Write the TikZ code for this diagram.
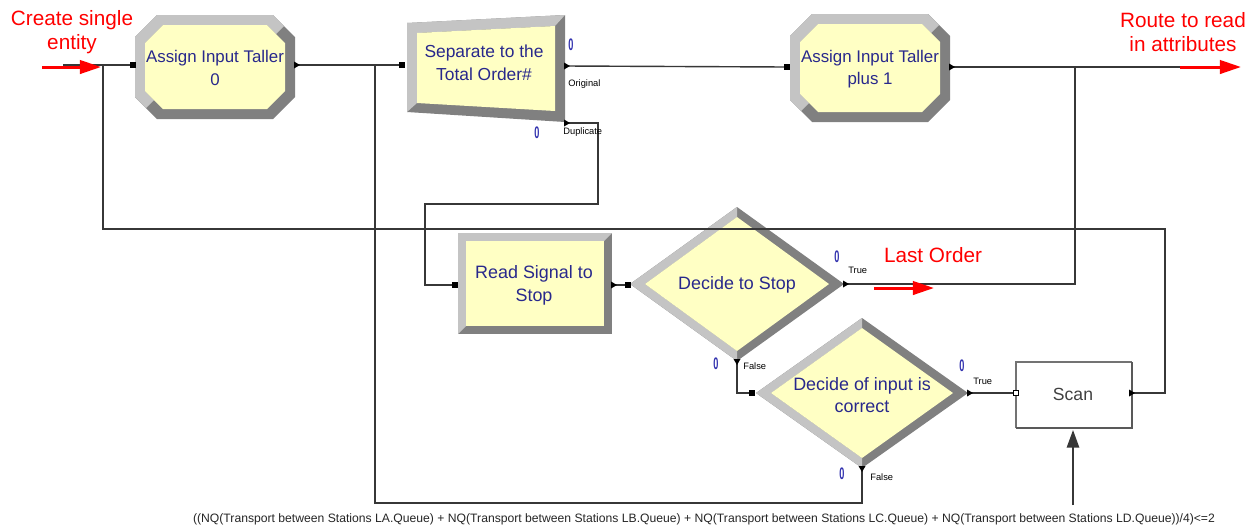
\documentclass[tikz,border=0pt]{standalone}
\usepackage{fontspec}
\setmainfont{Liberation Sans}
\usetikzlibrary{arrows.meta}

\definecolor{bevlight}{RGB}{196,196,196}
\definecolor{bevdark}{RGB}{128,128,128}
\definecolor{modfill}{RGB}{255,255,196}
\definecolor{modtext}{RGB}{40,40,140}
\definecolor{wire}{RGB}{55,55,55}
\definecolor{cnt}{RGB}{50,50,175}
\definecolor{note}{RGB}{255,0,0}

% Arena-style octagon module: cx, cy, half width, half height, chamfer, bevel
\newcommand\octmodule[6]{%
  \pgfmathsetmacro\mxL{#1-#3}\pgfmathsetmacro\mxR{#1+#3}%
  \pgfmathsetmacro\mxT{#2-#4}\pgfmathsetmacro\mxB{#2+#4}%
  \pgfmathsetmacro\mxC{#5}\pgfmathsetmacro\mxh{#5/2}%
  \pgfmathsetmacro\nxL{\mxL+#6}\pgfmathsetmacro\nxR{\mxR-#6}%
  \pgfmathsetmacro\nxT{\mxT+#6}\pgfmathsetmacro\nxB{\mxB-#6}%
  \pgfmathsetmacro\nxC{#5-0.4*#6}\pgfmathsetmacro\nxh{(#5-0.4*#6)/2}%
  \fill[bevdark] (\mxL+\mxC,\mxT) -- (\mxR-\mxC,\mxT) -- (\mxR,\mxT+\mxC) -- (\mxR,\mxB-\mxC)
     -- (\mxR-\mxC,\mxB) -- (\mxL+\mxC,\mxB) -- (\mxL,\mxB-\mxC) -- (\mxL,\mxT+\mxC) -- cycle;
  \fill[bevlight] (\mxL+\mxh,\mxB-\mxh) -- (\mxL,\mxB-\mxC) -- (\mxL,\mxT+\mxC) -- (\mxL+\mxC,\mxT)
     -- (\mxR-\mxC,\mxT) -- (\mxR-\mxh,\mxT+\mxh) -- (\nxR-\nxh,\nxT+\nxh) -- (\nxR-\nxC,\nxT)
     -- (\nxL+\nxC,\nxT) -- (\nxL,\nxT+\nxC) -- (\nxL,\nxB-\nxC) -- (\nxL+\nxh,\nxB-\nxh) -- cycle;
  \fill[modfill] (\nxL+\nxC,\nxT) -- (\nxR-\nxC,\nxT) -- (\nxR,\nxT+\nxC) -- (\nxR,\nxB-\nxC)
     -- (\nxR-\nxC,\nxB) -- (\nxL+\nxC,\nxB) -- (\nxL,\nxB-\nxC) -- (\nxL,\nxT+\nxC) -- cycle;
}

% Arena-style decide diamond: cx, cy, half width, half height, horizontal inset, vertical inset
\newcommand\decidemodule[6]{%
  \fill[bevdark] (#1,#2-#4) -- (#1+#3,#2) -- (#1,#2+#4) -- (#1-#3,#2) -- cycle;
  \fill[bevlight] (#1,#2-#4) -- (#1-#3,#2) -- (#1,#2+#4) -- (#1,#2+#4-#6) -- (#1-#3+#5,#2) -- (#1,#2-#4+#6) -- cycle;
  \fill[modfill] (#1,#2-#4+#6) -- (#1+#3-#5,#2) -- (#1,#2+#4-#6) -- (#1-#3+#5,#2) -- cycle;
}

% Arena-style rectangular module: left, top, right, bottom, bevel
\newcommand\rectmodule[5]{%
  \fill[bevdark] (#1,#2) rectangle (#3,#4);
  \fill[bevlight] (#1,#4) -- (#1,#2) -- (#3,#2) -- (#3-#5,#2+#5) -- (#1+#5,#2+#5) -- (#1+#5,#4-#5) -- cycle;
  \fill[modfill] (#1+#5,#2+#5) rectangle (#3-#5,#4-#5);
}

\tikzset{
  modlabel/.style={text=modtext, align=center, inner sep=0pt,
    font=\fontsize{9.6pt}{12.6pt}\selectfont},
  biglabel/.style={modlabel, font=\fontsize{10.2pt}{13pt}\selectfont},
  notelabel/.style={text=note, align=center, inner sep=0pt,
    font=\fontsize{11.8pt}{13.6pt}\selectfont},
  portlabel/.style={text=black, inner sep=0pt, anchor=west,
    font=\fontsize{5.3pt}{6pt}\selectfont},
  counter/.style={text=cnt, inner sep=0pt,
    font=\fontsize{9.5pt}{9.5pt}\selectfont\bfseries},
  wirestyle/.style={draw=wire, line width=0.8pt},
  notearrow/.style={draw=note, line width=1.7pt, -{Triangle[length=12pt,width=7.6pt]}},
}

\newcommand\entrymark[1]{\fill[black] (#1) ++(-2.6,-2.6) rectangle ++(5.2,5.2);}
\newcommand\exitright[1]{\fill[black] (#1) ++(-3,-3.5) -- ++(6,3.5) -- ++(-6,3.5) -- cycle;}
\newcommand\exitdown[1]{\fill[black] (#1) ++(-3.5,-3) -- ++(7,0) -- ++(-3.5,6) -- cycle;}
\newcommand\zero{\scalebox{0.55}[1]{0}}

\begin{document}
\begin{tikzpicture}[x=0.02cm, y=-0.02cm]
\useasboundingbox (0,0) rectangle (1257,529);
\fill[white] (0,0) rectangle (1257,529);

% ---------- module bodies ----------
\octmodule{215}{67}{80}{52}{22}{10}
\octmodule{870}{68}{80}{54}{22}{10}
% Separate: slanted box
\fill[bevdark] (407,23) -- (565,15) -- (565,122) -- (407,112) -- cycle;
\fill[bevlight] (407,112) -- (407,23) -- (565,15) -- (555,26) -- (417,33) -- (417,103) -- cycle;
\fill[modfill] (417,33) -- (555,26) -- (555,111) -- (417,103) -- cycle;
\rectmodule{458}{233}{612}{334}{8}
\decidemodule{737}{284}{107}{77}{15}{10}
\decidemodule{862}{393}{106}{75}{15}{10}
% Scan block
\fill[white] (1016,362) rectangle (1132,428);
\draw[draw=gray!90!black, line width=0.7pt] (1016,428) -- (1016,362) -- (1132,362);
\draw[draw=gray!70!black, line width=1pt] (1132,362) -- (1132,428) -- (1016,428);

% ---------- module labels ----------
\node[modlabel] (a0) at (215,68) {Assign Input Taller\\0};
\node[modlabel, font=\fontsize{9.9pt}{12.8pt}\selectfont] (sep) at (484,63) {Separate to the\\Total Order\#};
\node[modlabel] (a1) at (870,69) {Assign Input Taller\\plus 1};
\node[biglabel] (rs) at (534,285) {Read Signal to\\Stop};
\node[biglabel] (ds) at (737,285) {Decide to Stop};
\node[biglabel] (di) at (862,395) {Decide of input is\\correct};
\node[text=black!75, inner sep=0pt, font=\fontsize{10pt}{12pt}\selectfont] (scan) at (1073,394) {Scan};

% ---------- ports ----------
\coordinate (a0in) at (133,65);
\coordinate (a0out) at (297,65);
\coordinate (sepin) at (402,65);
\coordinate (seporig) at (567,66);
\coordinate (sepdup) at (567,123);
\coordinate (a1in) at (787,67);
\coordinate (a1out) at (952,67);
\coordinate (rsin) at (455,285);
\coordinate (rsout) at (614,285);
\coordinate (dsin) at (628,285);
\coordinate (dstrue) at (846,284);
\coordinate (dsfalse) at (737,362);
\coordinate (diin) at (752,393);
\coordinate (ditrue) at (970,393);
\coordinate (difalse) at (862,469);
\coordinate (scanin) at (1016,393);
\coordinate (scanout) at (1132,393);
\coordinate (scanbase) at (1073,430);

% ---------- free ends and bends ----------
\coordinate (createend) at (63,65);
\coordinate (routeend) at (1222,67);
\coordinate (loopa) at (103,65);
\coordinate (loopb) at (103,229);
\coordinate (loopc) at (1165,229);
\coordinate (dupa) at (598,123);
\coordinate (dupb) at (598,204);
\coordinate (dupc) at (425,204);
\coordinate (merge) at (375,65);
\coordinate (fbot) at (375,503);
\coordinate (lastjoin) at (1075,284);
\coordinate (lasttop) at (1075,67);
\coordinate (lastend) at (1128,67);
\coordinate (condfoot) at (1073,505);

% ---------- connectors ----------
\draw[wirestyle] (createend) -- (a0in);
\draw[wirestyle] (a0out) -- (sepin);
\draw[wirestyle] (seporig) -- (a1in);
\draw[wirestyle] (a1out) -- (routeend);
\draw[wirestyle] (sepdup) -- (dupa) -- (dupb) -- (dupc) |- (rsin);
\draw[wirestyle] (rsout) -- (dsin);
\draw[wirestyle] (dstrue) -- (lastjoin) -- (lasttop) -- (lastend);
\draw[wirestyle] (dsfalse) |- (diin);
\draw[wirestyle] (ditrue) -- (scanin);
\draw[wirestyle] (difalse) |- (fbot) -- (merge);
\draw[wirestyle] (scanout) -| (loopc) -- (loopb) -- (loopa);
\draw[draw=wire, line width=1pt, -{Triangle[length=10pt,width=7pt]}] (condfoot) -- (scanbase);

% ---------- port marks ----------
\entrymark{a0in}\entrymark{sepin}\entrymark{a1in}\entrymark{rsin}
\entrymark{dsin}\entrymark{diin}
\fill[white] (scanin) ++(-2.6,-2.6) rectangle ++(5.2,5.2);
\draw[black, line width=0.4pt] (scanin) ++(-2.6,-2.6) rectangle ++(5.2,5.2);
\exitright{a0out}\exitright{seporig}\exitright{sepdup}\exitright{a1out}
\exitright{rsout}\exitright{dstrue}\exitright{ditrue}\exitright{scanout}
\exitdown{dsfalse}\exitdown{difalse}

% ---------- port labels and counters ----------
\node[portlabel] (lorig) at (568,84) {Original};
\node[portlabel] (ldup) at (563,132) {Duplicate};
\node[portlabel] (ltrue1) at (848,270) {True};
\node[portlabel] (lfalse1) at (743,366) {False};
\node[portlabel] (ltrue2) at (973,381) {True};
\node[portlabel] (lfalse2) at (870,477) {False};
\node[counter] (c1) at (571,45) {\zero};
\node[counter] (c2) at (537,133) {\zero};
\node[counter] (c3) at (837,257) {\zero};
\node[counter] (c4) at (716,364) {\zero};
\node[counter] (c5) at (962,366) {\zero};
\node[counter] (c6) at (842,474) {\zero};

% ---------- annotations ----------
\node[notelabel] (create) at (72,32) {Create single\\entity};
\node[notelabel] (route) at (1183,32) {Route to read\\in attributes};
\node[notelabel] (last) at (933,255) {Last Order};
\coordinate (ca) at (42,67);
\coordinate (cb) at (101,67);
\coordinate (ra) at (1180,67);
\coordinate (rb) at (1241,67);
\coordinate (la) at (874,288);
\coordinate (lb) at (934,288);
\draw[notearrow] (ca) -- (cb);
\draw[notearrow] (ra) -- (rb);
\draw[notearrow] (la) -- (lb);

% ---------- scan condition ----------
\node[inner sep=0pt, text=black!85] (cond) at (704,519)
  {\resizebox{20.44cm}{!}{\fontsize{6pt}{7pt}\selectfont ((NQ(Transport between Stations LA.Queue) + NQ(Transport between Stations LB.Queue) + NQ(Transport between Stations LC.Queue) + NQ(Transport between Stations LD.Queue))/4)<=2}};
\end{tikzpicture}
\end{document}
